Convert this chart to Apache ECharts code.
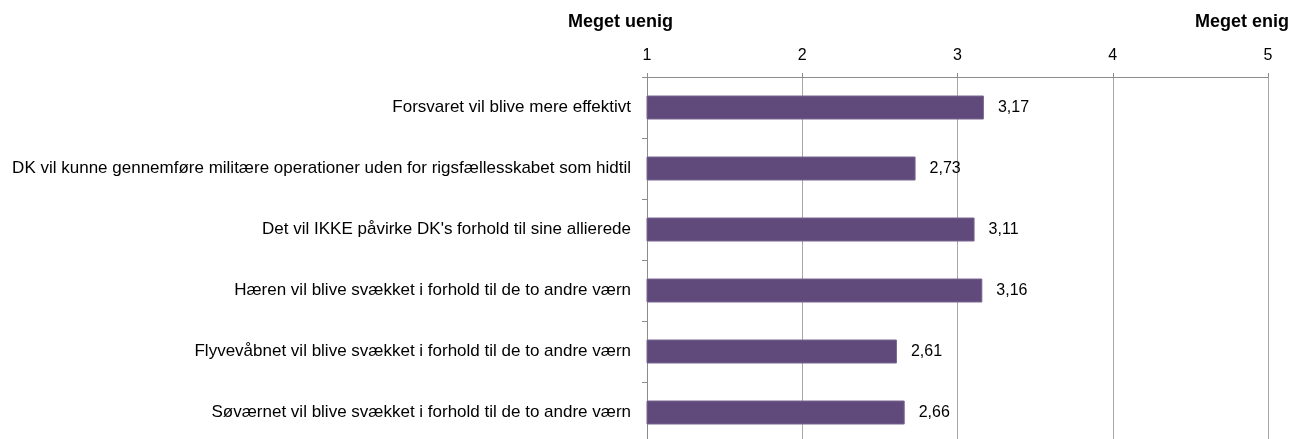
<!DOCTYPE html>
<html>
<head>
<meta charset="utf-8">
<script src="https://cdn.jsdelivr.net/npm/echarts@6/dist/echarts.min.js"></script>
<style>
  html, body { margin: 0; padding: 0; background: #fff; overflow: hidden; }
  /* the canvas is a little taller than the window so the last band is cut off at the bottom */
  #chart { width: 1307px; height: 447px; }
</style>
</head>
<body>
<div id="chart"></div>
<script>
// Statements (top to bottom) and their mean agreement scores on a 1–5 scale
const statements = [
  "Forsvaret vil blive mere effektivt",
  "DK vil kunne gennemføre militære operationer uden for rigsfællesskabet som hidtil",
  "Det vil IKKE påvirke DK's forhold til sine allierede",
  "Hæren vil blive svækket i forhold til de to andre værn",
  "Flyvevåbnet vil blive svækket i forhold til de to andre værn",
  "Søværnet vil blive svækket i forhold til de to andre værn"
];
const meanScores = [3.17, 2.73, 3.11, 3.16, 2.61, 2.66];
const scaleTicks = [1, 2, 3, 4, 5];
const scaleEnds = ["Meget uenig", "Meget enig"];

const FONT = "'Liberation Sans', Arial, sans-serif";
const chart = echarts.init(document.getElementById('chart'));

chart.setOption({
  animation: false,
  backgroundColor: '#ffffff',
  textStyle: { fontFamily: FONT },
  grid: { left: 647, right: 39, top: 77, bottom: 4, containLabel: false },
  xAxis: {
    type: 'value',
    position: 'top',
    min: scaleTicks[0],
    max: scaleTicks[scaleTicks.length - 1],
    interval: 1,
    axisLine: { show: true, lineStyle: { color: '#8c8c8c', width: 1 } },
    axisTick: { show: true, length: 4, lineStyle: { color: '#8c8c8c' } },
    axisLabel: { color: '#000', fontSize: 16, margin: 13, fontFamily: FONT },
    splitLine: { show: true, lineStyle: { color: '#a6a6a6', width: 1 } }
  },
  yAxis: {
    type: 'category',
    inverse: true,
    data: statements,
    axisLine: { show: true, lineStyle: { color: '#8c8c8c', width: 1 } },
    axisTick: { show: true, length: 5, lineStyle: { color: '#8c8c8c' } },
    axisLabel: { color: '#000', fontSize: 17, margin: 16, fontFamily: FONT }
  },
  series: [{
    type: 'bar',
    data: meanScores,
    barWidth: 24,
    itemStyle: { color: '#604a7b', borderColor: '#7a6690', borderWidth: 1 },
    label: {
      show: true,
      position: 'right',
      distance: 14,
      color: '#000',
      fontSize: 16,
      fontFamily: FONT,
      formatter: p => p.value.toFixed(2).replace('.', ',')
    }
  }],
  graphic: [
    {
      type: 'text', left: 568, top: 13,
      style: { text: scaleEnds[0], font: "bold 18px " + FONT, fill: '#000' }
    },
    {
      type: 'text', right: 18, top: 13,
      style: { text: scaleEnds[1], font: "bold 18px " + FONT, fill: '#000' }
    }
  ]
});
</script>
</body>
</html>
